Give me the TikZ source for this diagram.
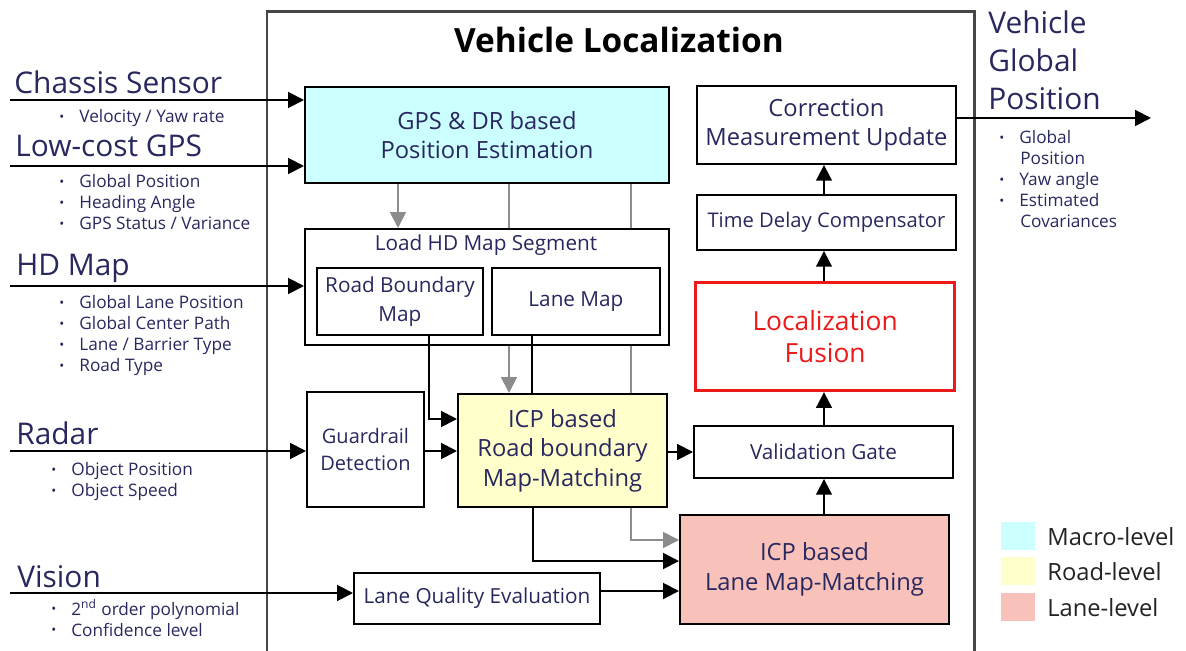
\documentclass[tikz,border=0pt]{standalone}
\usepackage{fontspec}
\setmainfont{Open Sans}
\usetikzlibrary{arrows.meta}
\newdimen\pxu \pxu=0.02cm
\definecolor{navy}{RGB}{40,40,95}
\definecolor{outerc}{RGB}{70,70,70}
\definecolor{grayc}{RGB}{140,140,140}
\definecolor{macroc}{RGB}{204,255,255}
\definecolor{roadc}{RGB}{255,255,204}
\definecolor{lanec}{RGB}{248,194,186}
\definecolor{redc}{RGB}{235,25,25}
\definecolor{legtxt}{RGB}{35,35,35}
\newcommand\blt{\makebox[11.4pt][l]{\fontsize{7.5}{7.5}\selectfont\raisebox{0.6pt}{•}}}
\pgfdeclarelayer{bg}
\pgfsetlayers{bg,main}
\tikzset{
  box/.style={draw=black, line width=1.1pt, fill=white, anchor=north west, inner sep=0pt,
    align=center, text=navy, font=\fontsize{11.8}{16.5}\selectfont},
  bigtxt/.style={font=\fontsize{13.5}{16.8}\selectfont},
  big/.style={anchor=base west, inner sep=0pt, text=navy, font=\fontsize{17}{20}\selectfont},
  bul/.style={anchor=base west, inner sep=0pt, text=navy, font=\fontsize{9.8}{11}\selectfont},
  arr/.style={draw=black, line width=1.1pt, -{Triangle[length=9pt,width=9pt]}},
  ln/.style={draw=black, line width=1.1pt},
  garr/.style={draw=grayc, line width=1.1pt, -{Triangle[length=9pt,width=9pt]}},
  gln/.style={draw=grayc, line width=1.1pt},
  legsq/.style={anchor=north west, inner sep=0pt, minimum width=34\pxu, minimum height=28\pxu},
  legt/.style={anchor=west, inner sep=0pt, text=legtxt, font=\fontsize{13.5}{16}\selectfont},
}
\begin{document}
\begin{tikzpicture}[x=0.02cm,y=-0.02cm]
\useasboundingbox (0,0) rectangle (1186,651);

% outer frame
\draw[draw=outerc, line width=1.7pt] (267,660) -- (267,12) -- (974,12) -- (974,660);
\node[font=\fontsize{19}{23}\selectfont\bfseries, text=black] (title) at (619,40) {Vehicle Localization};

% boxes
\node[box, bigtxt, fill=macroc, minimum width=364\pxu, minimum height=96\pxu] (gps) at (304,86) {GPS \& DR based\\Position Estimation};
\node[box, minimum width=364\pxu, minimum height=116\pxu] (load) at (304,228) {};
\node[text=navy, font=\fontsize{11.8}{14}\selectfont, inner sep=0pt] (loadlbl) at (486,245) {Load HD Map Segment};
\node[box, minimum width=166\pxu, minimum height=67\pxu] (rbm) at (316,267) {Road Boundary\\Map};
\node[box, minimum width=168\pxu, minimum height=67\pxu] (lmap) at (491,267) {Lane Map};
\node[box, font=\fontsize{11.4}{15.5}\selectfont, minimum width=117\pxu, minimum height=115\pxu] (guard) at (306,391) {Guardrail\\Detection};
\node[box, bigtxt, fill=roadc, minimum width=209\pxu, minimum height=113\pxu] (icpr) at (457,393) {ICP based\\Road boundary\\Map-Matching};
\node[box, minimum width=246\pxu, minimum height=51\pxu] (lqe) at (353,572) {Lane Quality Evaluation};
\node[box, bigtxt, fill=lanec, minimum width=269\pxu, minimum height=109\pxu] (icpl) at (679,514) {ICP based\\Lane Map-Matching};
\node[box, minimum width=259\pxu, minimum height=52\pxu] (vg) at (693,425) {Validation Gate};
\node[box, draw=redc, line width=1.8pt, text=redc, font=\fontsize{15}{18.5}\selectfont, minimum width=259\pxu, minimum height=108\pxu] (fus) at (694,281) {Localization\\Fusion};
\node[box, font=\fontsize{11.5}{14}\selectfont, minimum width=259\pxu, minimum height=55\pxu] (tdc) at (696,194) {Time Delay Compensator};
\node[box, bigtxt, minimum width=259\pxu, minimum height=78\pxu] (cmu) at (696,85) {Correction\\Measurement Update};

% left labels
\node[big] (lC) at (14,94) {Chassis Sensor};
\node[bul] (c1) at (59,123) {\blt Velocity / Yaw rate};
\node[big] (lG) at (15,157) {Low-cost GPS};
\node[bul] (g1b) at (59,188) {\blt Global Position};
\node[bul] (g2b) at (59,209) {\blt Heading Angle};
\node[bul] (g3b) at (59,230) {\blt GPS Status / Variance};
\node[big] (lH) at (16,276) {HD Map};
\node[bul] (h1) at (59,309) {\blt Global Lane Position};
\node[bul] (h2) at (59,330) {\blt Global Center Path};
\node[bul] (h3) at (59,351) {\blt Lane / Barrier Type};
\node[bul] (h4) at (59,372) {\blt Road Type};
\node[big] (lR) at (16,445) {Radar};
\node[bul] (r1) at (51,476) {\blt Object Position};
\node[bul] (r2) at (51,497) {\blt Object Speed};
\node[big] (lV) at (17,587) {Vision};
\node[bul] (v1) at (51,615) {\blt 2\textsuperscript{nd} order polynomial};
\node[bul] (v2) at (51,636) {\blt Confidence level};

% right labels
\node[big] (o1) at (988,34) {Vehicle};
\node[big] (o2) at (988,72) {Global};
\node[big] (o3) at (988,110) {Position};
\node[bul] (p1) at (999,144) {\blt Global};
\node[bul] (p2) at (1020,165) {Position};
\node[bul] (p3) at (999,186) {\blt Yaw angle};
\node[bul] (p4) at (999,207) {\blt Estimated};
\node[bul] (p5) at (1020,228) {Covariances};

% legend
\node[legsq, fill=macroc] (sq1) at (1001,522) {};
\node[legsq, fill=roadc] (sq2) at (1001,557) {};
\node[legsq, fill=lanec] (sq3) at (1001,593) {};
\node[legt] (t1) at (1047,537) {Macro-level};
\node[legt] (t2) at (1047,572) {Road-level};
\node[legt] (t3) at (1047,608) {Lane-level};

% input / output arrows
\coordinate (inC) at (10,100);
\coordinate (inG) at (10,166);
\coordinate (inH) at (10,286);
\coordinate (inR) at (10,451);
\coordinate (inV) at (10,593);
\coordinate (outV) at (1151,118);
\draw[arr] (inC) -- (inC -| gps.west);
\draw[arr] (inG) -- (inG -| gps.west);
\draw[arr] (inH) -- (inH -| load.west);
\draw[arr] (inR) -- (inR -| guard.west);
\draw[arr] (inV) -- (inV -| lqe.west);
\draw[arr] (outV -| cmu.east) -- (outV);

% gray connectors
\coordinate (gx1) at (398,0);
\coordinate (gx2) at (509,0);
\coordinate (gx3) at (631,540);
\draw[garr] (gps.south -| gx1) -- (load.north -| gx1);
\begin{pgfonlayer}{bg}
\draw[garr] (gps.south -| gx2) -- (icpr.north -| gx2);
\draw[garr] (gps.south -| gx3) |- (gx3 -| icpl.west);
\end{pgfonlayer}

% black connectors
\coordinate (k1) at (429,419);
\coordinate (k2) at (532,0);
\coordinate (k3) at (0,451);
\coordinate (k4) at (0,452);
\coordinate (k5) at (533,561);
\coordinate (k6) at (0,591);
\coordinate (k7) at (824,0);
\draw[arr] (rbm.south -| k1) |- (k1 -| icpr.west);
\draw[ln] (lmap.south -| k2) -- (icpr.north -| k2);
\draw[arr] (guard.east |- k3) -- (icpr.west |- k3);
\draw[arr] (icpr.east |- k4) -- (vg.west |- k4);
\draw[arr] (icpr.south -| k5) |- (k5 -| icpl.west);
\draw[arr] (lqe.east |- k6) -- (icpl.west |- k6);
\draw[arr] (icpl.north -| k7) -- (vg.south -| k7);
\draw[arr] (vg.north -| k7) -- (fus.south -| k7);
\draw[arr] (fus.north -| k7) -- (tdc.south -| k7);
\draw[arr] (tdc.north -| k7) -- (cmu.south -| k7);
\end{tikzpicture}
\end{document}
